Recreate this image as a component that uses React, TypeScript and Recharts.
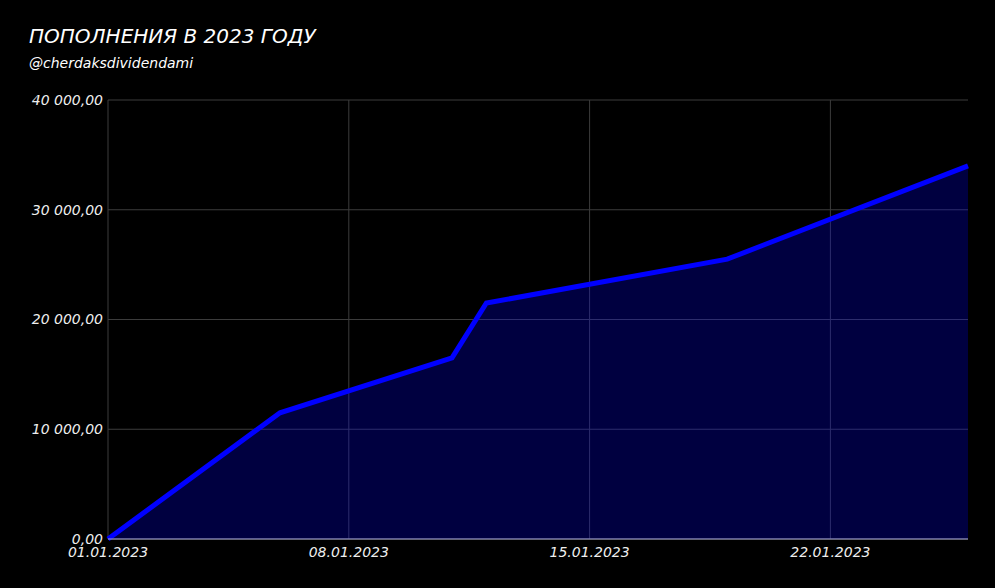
import React from "react";
import {
  AreaChart,
  Area,
  XAxis,
  YAxis,
  CartesianGrid,
} from "recharts";

const dates = [
  "01.01.2023",
  "06.01.2023",
  "11.01.2023",
  "12.01.2023",
  "19.01.2023",
  "26.01.2023",
];
const totals = [0, 11500, 16500, 21500, 25500, 34000];
const xTickDates = ["01.01.2023", "08.01.2023", "15.01.2023", "22.01.2023"];
const yTicks = [0, 10000, 20000, 30000, 40000];

const dayOf = (s: string) => {
  const [d, m, y] = s.split(".").map(Number);
  return Date.UTC(y, m - 1, d) / 86400000;
};
const start = dayOf(dates[0]);
const lastDay = dayOf(dates[dates.length - 1]) - start;

const data = dates.map((d, i) => ({ day: dayOf(d) - start, total: totals[i] }));
const xTicks = xTickDates.map((d) => dayOf(d) - start);

const fmtDay = (v: number) => {
  const dt = new Date((start + v) * 86400000);
  const dd = String(dt.getUTCDate()).padStart(2, "0");
  const mm = String(dt.getUTCMonth() + 1).padStart(2, "0");
  return `${dd}.${mm}.${dt.getUTCFullYear()}`;
};

const fmtMoney = (v: number) =>
  v.toFixed(2).replace(".", ",").replace(/\B(?=(\d{3})+(?!\d))/g, " ");

const font = "'DejaVu Sans', sans-serif";

// vertical grid only at the x ticks (no line on the right edge)
const vGrid = ({ xAxis, offset }: any) =>
  xTicks.map((t) =>
    xAxis && typeof xAxis.scale === "function"
      ? xAxis.scale(t)
      : offset.left + (t / lastDay) * offset.width
  );

export default function App() {
  const tick = { fill: "#eee", fontSize: 14, fontStyle: "italic", fontFamily: font };
  return (
    <div
      style={{
        position: "absolute",
        left: 0,
        top: 0,
        width: 995,
        height: 588,
        background: "#000",
        fontFamily: font,
        fontStyle: "italic",
        color: "#fff",
      }}
    >
      <div style={{ position: "absolute", left: 29, top: 24, fontSize: 20 }}>
        ПОПОЛНЕНИЯ В 2023 ГОДУ
      </div>
      <div style={{ position: "absolute", left: 29, top: 55, fontSize: 14 }}>
        @cherdaksdividendami
      </div>
      <AreaChart
        width={995}
        height={588}
        data={data}
        margin={{ top: 100, right: 27, bottom: 19, left: 0 }}
      >
        <CartesianGrid
          stroke="#3c3c3c"
          strokeWidth={1}
          verticalCoordinatesGenerator={vGrid}
        />
        <XAxis
          dataKey="day"
          type="number"
          domain={[0, lastDay]}
          ticks={xTicks}
          tickFormatter={fmtDay}
          interval={0}
          height={30}
          tickLine={false}
          stroke="#a9a9d0"
          tick={tick}
          tickSize={0}
          tickMargin={8}
        />
        <YAxis
          type="number"
          domain={[0, 40000]}
          ticks={yTicks}
          tickFormatter={fmtMoney}
          width={108}
          axisLine={false}
          tickLine={false}
          tickSize={0}
          tickMargin={5}
          tick={tick}
        />
        <Area
          type="linear"
          dataKey="total"
          stroke="#0000ff"
          strokeWidth={5}
          fill="#0000ff"
          fillOpacity={0.25}
          isAnimationActive={false}
          dot={false}
          activeDot={false}
        />
      </AreaChart>
    </div>
  );
}
